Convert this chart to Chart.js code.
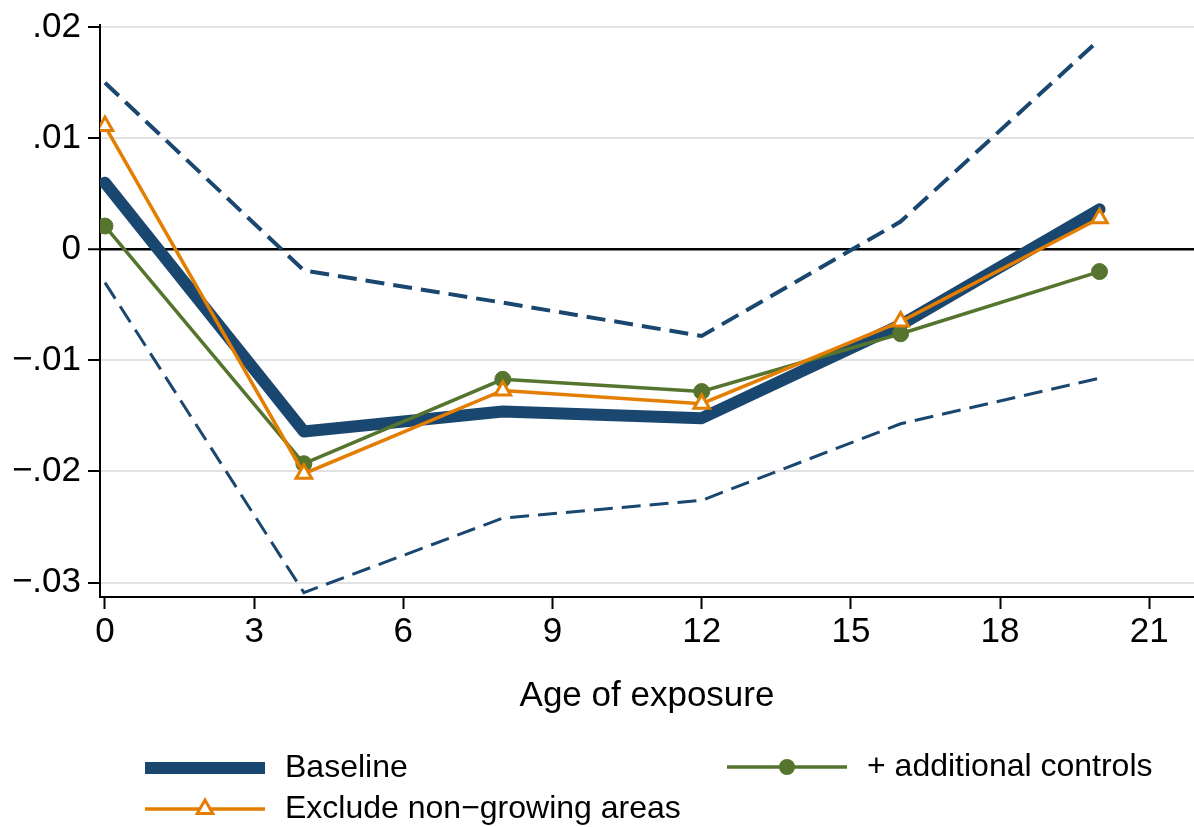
<!DOCTYPE html>
<html>
<head>
<meta charset="utf-8">
<script src="https://cdn.jsdelivr.net/npm/chart.js"></script>
<style>
  html, body { margin: 0; padding: 0; background: #fff; overflow: hidden; }
  #wrap { width: 1194px; height: 827px; position: relative; overflow: hidden; }
</style>
</head>
<body>
<div id="wrap"><canvas id="c" width="1206" height="827"></canvas></div>
<script>
// ---- data ----
const ages = [0, 4, 8, 12, 16, 20];
const baseline = [0.0060, -0.0164, -0.0146, -0.0152, -0.0068, 0.0036];
const upperCI = [0.0150, -0.0019, -0.0048, -0.0078, 0.0025, 0.0189];
const lowerCI = [-0.0030, -0.0309, -0.0242, -0.0226, -0.0157, -0.0116];
const excludeNonGrowing = [0.0111, -0.0202, -0.0127, -0.0139, -0.0065, 0.0028];
const additionalControls = [0.0021, -0.0193, -0.0117, -0.0128, -0.0076, -0.0020];
const seriesLabels = ["Baseline", "Exclude non\u2212growing areas", "+ additional controls"];
const xTickValues = [0, 3, 6, 9, 12, 15, 18, 21];
const yTickValues = [-0.03, -0.02, -0.01, 0, 0.01, 0.02];
const yTickLabels = ["\u2212.03", "\u2212.02", "\u2212.01", "0", ".01", ".02"];
const xTitle = "Age of exposure";

const NAVY = "#1a476f", ORANGE = "#e37e00", GREEN = "#55752f";
const FONT = "'Liberation Sans', Arial, Helvetica, sans-serif";

const pts = arr => ages.map((a, i) => ({ x: a, y: arr[i] }));

const legendPlugin = {
  id: "customLegend",
  afterDraw(chart) {
    const ctx = chart.ctx;
    ctx.save();
    ctx.font = "32px " + FONT;
    ctx.fillStyle = "#000";
    ctx.textBaseline = "middle";
    ctx.textAlign = "left";
    const items = [
      { x0: 145, x1: 265, y: 768, color: NAVY, w: 12, marker: null, label: seriesLabels[0] },
      { x0: 727, x1: 847, y: 767, color: GREEN, w: 3.5, marker: "circle", label: seriesLabels[2] },
      { x0: 145, x1: 265, y: 809, color: ORANGE, w: 3.5, marker: "triangle", label: seriesLabels[1] }
    ];
    items.forEach(it => {
      ctx.beginPath();
      ctx.strokeStyle = it.color;
      ctx.lineWidth = it.w;
      ctx.lineCap = "butt";
      ctx.moveTo(it.x0, it.y);
      ctx.lineTo(it.x1, it.y);
      ctx.stroke();
      const cx = (it.x0 + it.x1) / 2;
      if (it.marker === "circle") {
        ctx.beginPath();
        ctx.fillStyle = it.color;
        ctx.arc(cx, it.y, 8, 0, Math.PI * 2);
        ctx.fill();
      } else if (it.marker === "triangle") {
        const r = 9;
        ctx.beginPath();
        for (let k = 0; k < 3; k++) {
          const a = k * 2 * Math.PI / 3;
          const px = cx + Math.sin(a) * r, py = it.y - Math.cos(a) * r;
          if (k === 0) ctx.moveTo(px, py); else ctx.lineTo(px, py);
        }
        ctx.closePath();
        ctx.fillStyle = "#fff";
        ctx.fill();
        ctx.strokeStyle = it.color;
        ctx.lineWidth = 3;
        ctx.lineJoin = "miter";
        ctx.stroke();
      }
      ctx.fillStyle = "#000";
      ctx.fillText(it.label, it.x1 + 20, it.y);
    });
    ctx.restore();
  }
};

new Chart(document.getElementById("c"), {
  type: "line",
  data: {
    datasets: [
      { label: "Upper CI", data: pts(upperCI), borderColor: NAVY, borderWidth: 4, borderDash: [19, 9],
        pointRadius: 0, fill: false, tension: 0, order: 5 },
      { label: "Lower CI", data: pts(lowerCI), borderColor: NAVY, borderWidth: 3, borderDash: [19, 9],
        pointRadius: 0, fill: false, tension: 0, order: 4 },
      { label: seriesLabels[0], data: pts(baseline), borderColor: NAVY, borderWidth: 12,
        borderCapStyle: "round", borderJoinStyle: "round", pointRadius: 0, fill: false, tension: 0, order: 3 },
      { label: seriesLabels[2], data: pts(additionalControls), borderColor: GREEN, borderWidth: 3.5,
        pointStyle: "circle", pointRadius: 8, pointBackgroundColor: GREEN, pointBorderColor: GREEN,
        pointBorderWidth: 1, fill: false, tension: 0, order: 2 },
      { label: seriesLabels[1], data: pts(excludeNonGrowing), borderColor: ORANGE, borderWidth: 3.5,
        pointStyle: "triangle", pointRadius: 9, pointBackgroundColor: "#fff", pointBorderColor: ORANGE,
        pointBorderWidth: 3, fill: false, tension: 0, order: 1 }
    ]
  },
  options: {
    responsive: false,
    animation: false,
    events: [],
    layout: { padding: { top: 25, right: 0, bottom: 110, left: 0 } },
    plugins: { legend: { display: false }, tooltip: { enabled: false } },
    scales: {
      x: {
        type: "linear",
        min: -0.1,
        max: 21.9,
        afterBuildTicks: s => { s.ticks = xTickValues.map(v => ({ value: v })); },
        afterFit: s => { s.height = 120; s.paddingLeft = 0; s.paddingRight = 0; },
        grid: { display: true, drawOnChartArea: false, drawTicks: true, tickLength: 12,
                tickColor: "#000", tickWidth: 2 },
        border: { display: true, color: "#000", width: 2 },
        ticks: { color: "#000", font: { family: FONT, size: 35 }, padding: 2, maxRotation: 0,
                 autoSkip: false, callback: v => String(v) },
        title: { display: true, text: xTitle, color: "#000", font: { family: FONT, size: 35 },
                 padding: 0 }
      },
      y: {
        type: "linear",
        min: -0.0313,
        max: 0.0202,
        afterBuildTicks: s => { s.ticks = yTickValues.map(v => ({ value: v })); },
        afterFit: s => { s.width = 100; s.paddingTop = 0; s.paddingBottom = 0; },
        grid: {
          color: c => (c.tick && c.tick.value === 0) ? "#000" : "#e2e2e2",
          lineWidth: c => (c.tick && c.tick.value === 0) ? 2.5 : 2,
          tickLength: 12, tickColor: "#000", tickWidth: 2, drawTicks: true
        },
        border: { display: true, color: "#000", width: 2 },
        ticks: { color: "#000", font: { family: FONT, size: 35 }, padding: 7, autoSkip: false,
                 callback: (v, i) => yTickLabels[i] }
      }
    }
  },
  plugins: [legendPlugin]
});
</script>
</body>
</html>
